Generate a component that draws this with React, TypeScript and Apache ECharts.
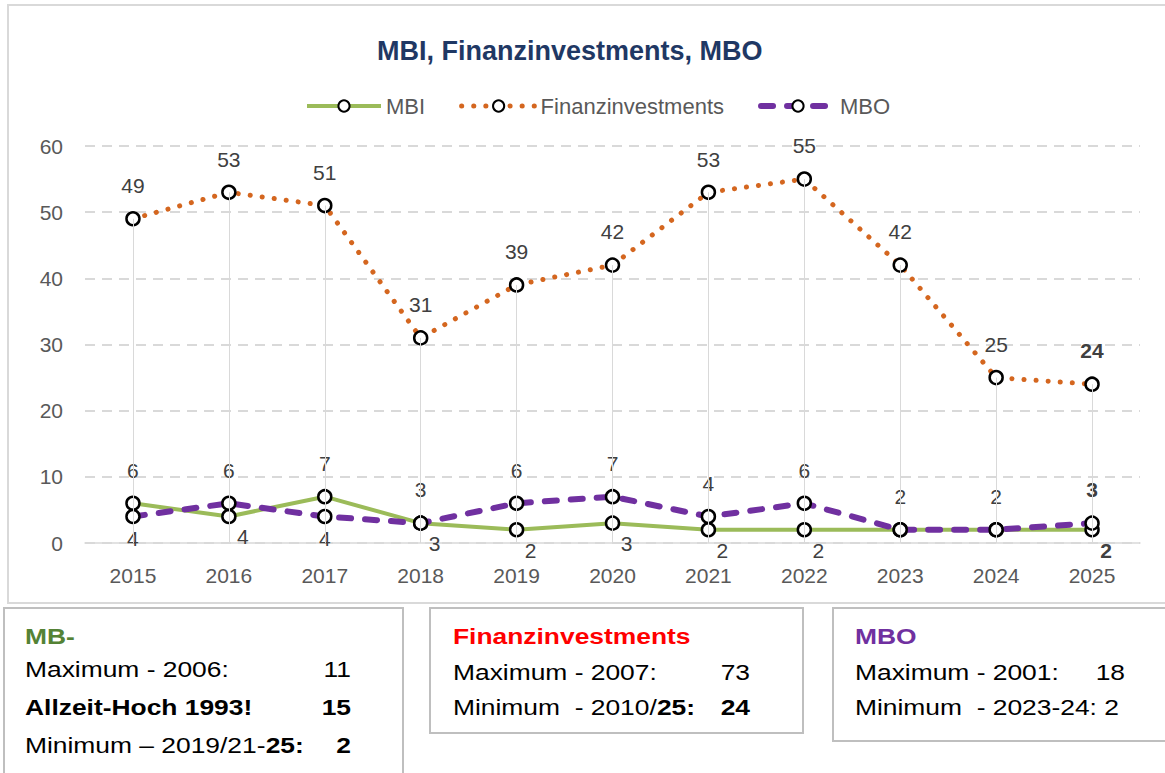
import React, { useEffect, useRef } from 'react';
import * as echarts from 'echarts';

const years = ['2015', '2016', '2017', '2018', '2019', '2020', '2021', '2022', '2023', '2024', '2025'];
const mbiValues = [6, 4, 7, 3, 2, 3, 2, 2, 2, 2, 2];
const finanzValues = [49, 53, 51, 31, 39, 42, 53, 55, 42, 25, 24];
const mboValues = [4, 6, 4, 3, 6, 7, 4, 6, 2, 2, 3];
const seriesNames = ['MBI', 'Finanzinvestments', 'MBO'];
const yMin = 0;
const yMax = 60;
const yStep = 10;

const FONT = '"Liberation Sans", Arial, sans-serif';
const LABEL_COLOR = '#404040';
const AXIS_COLOR = '#595959';
const MBI_COLOR = '#9BBB59';
const FIN_COLOR = '#D4661F';
const MBO_COLOR = '#7030A0';

export default function App() {
  const ref = useRef<HTMLDivElement>(null);

  useEffect(() => {
    if (!ref.current) return;
    const chart = echarts.init(ref.current, null, { renderer: 'svg' });
    const last = years.length - 1;
    const hiddenMbi = [8, 9];

    const marker = {
      symbol: 'circle',
      symbolSize: 13,
      itemStyle: { color: '#ffffff', borderColor: '#000000', borderWidth: 2.5 },
    };
    const baseLabel = {
      show: true,
      fontFamily: FONT,
      fontSize: 21,
      color: LABEL_COLOR,
    };

    const mbiLine = { color: MBI_COLOR, width: 4 };
    const finLine = { color: FIN_COLOR, width: 5, type: [0.1, 12], cap: 'round' };
    const mboLine = { color: MBO_COLOR, width: 6, type: [12, 14], cap: 'round' };

    const finData = finanzValues.map((v, i) => ({
      value: v,
      label: { fontWeight: i === last ? 'bold' : 'normal' },
    }));
    const mbiData = mbiValues.map((v, i) => {
      const above = v > mboValues[i];
      return {
        value: v,
        label: {
          show: !hiddenMbi.includes(i),
          fontWeight: i === last ? 'bold' : 'normal',
          position: above ? 'top' : 'bottom',
          distance: above ? 15 : 4,
          offset: above ? [0, 0] : [14, -2],
        },
      };
    });
    const mboData = mboValues.map((v, i) => {
      const above = v >= mbiValues[i];
      return {
        value: v,
        label: {
          fontWeight: i === last ? 'bold' : 'normal',
          position: above ? 'top' : 'bottom',
          distance: above ? 15 : 4,
        },
      };
    });

    const boxText = (x: number, y: number, text: string, opts: any = {}) => ({
      type: 'text',
      x,
      y,
      scaleX: 1.2,
      z: 10,
      style: {
        text,
        fontFamily: FONT,
        fontSize: 22,
        fontWeight: opts.bold ? 'bold' : 'normal',
        fill: opts.color || '#000000',
        textAlign: opts.align || 'left',
        textVerticalAlign: 'middle',
        rich: opts.rich,
      },
    });
    const rich = {
      n: { fontFamily: FONT, fontSize: 22, fontWeight: 'normal', fill: '#000' },
      b: { fontFamily: FONT, fontSize: 22, fontWeight: 'bold', fill: '#000' },
    };

    const option: any = {
      animation: false,
      backgroundColor: '#ffffff',
      title: {
        text: 'MBI, Finanzinvestments, MBO',
        left: 377,
        top: 37,
        padding: 0,
        textStyle: { fontFamily: FONT, fontSize: 27, fontWeight: 'bold', color: '#1F3864' },
      },
      legend: {
        data: [
          { name: seriesNames[0], lineStyle: mbiLine },
          { name: seriesNames[1], lineStyle: finLine },
          { name: seriesNames[2], lineStyle: mboLine },
        ],
        left: 300,
        top: 90,
        itemWidth: 74,
        itemHeight: 14,
        itemGap: 34,
        textStyle: { fontFamily: FONT, fontSize: 22, color: AXIS_COLOR },
      },
      grid: { left: 85, right: 25, top: 146, bottom: 230, containLabel: false },
      xAxis: {
        type: 'category',
        data: years,
        boundaryGap: true,
        axisLine: { show: true, lineStyle: { color: '#D9D9D9', width: 1.5 } },
        axisTick: { show: false },
        axisLabel: { margin: 22, fontFamily: FONT, fontSize: 21, color: AXIS_COLOR },
        splitLine: { show: false },
      },
      yAxis: {
        type: 'value',
        min: yMin,
        max: yMax,
        interval: yStep,
        axisLine: { show: false },
        axisTick: { show: false },
        axisLabel: { margin: 22, fontFamily: FONT, fontSize: 21, color: AXIS_COLOR },
        splitLine: { show: true, lineStyle: { color: '#D9D9D9', width: 2, type: [10, 7] } },
      },
      series: [
        {
          name: seriesNames[0],
          type: 'line',
          data: mbiData,
          z: 3,
          ...marker,
          lineStyle: mbiLine,
          label: { ...baseLabel },
          emphasis: { disabled: true },
        },
        {
          name: seriesNames[1],
          type: 'line',
          data: finData,
          z: 2,
          ...marker,
          lineStyle: finLine,
          label: { ...baseLabel, position: 'top', distance: 15 },
          emphasis: { disabled: true },
          markLine: {
            silent: true,
            symbol: ['none', 'none'],
            label: { show: false },
            lineStyle: { color: '#D9D9D9', width: 1, type: 'solid' },
            emphasis: { disabled: true },
            data: finanzValues.map((v, i) => [
              { coord: [years[i], 0] },
              { coord: [years[i], v] },
            ]),
          },
        },
        {
          name: seriesNames[2],
          type: 'line',
          data: mboData,
          z: 4,
          ...marker,
          lineStyle: mboLine,
          label: { ...baseLabel },
          emphasis: { disabled: true },
        },
      ],
      graphic: [
        {
          type: 'rect',
          z: 0,
          shape: { x: 8, y: 5, width: 1170, height: 598 },
          style: { fill: 'none', stroke: '#D9D9D9', lineWidth: 2 },
        },
        {
          type: 'rect',
          z: 0,
          shape: { x: 4, y: 608, width: 399, height: 200 },
          style: { fill: 'none', stroke: '#BFBFBF', lineWidth: 2 },
        },
        {
          type: 'rect',
          z: 0,
          shape: { x: 430, y: 608, width: 373, height: 125 },
          style: { fill: 'none', stroke: '#BFBFBF', lineWidth: 2 },
        },
        {
          type: 'rect',
          z: 0,
          shape: { x: 833, y: 608, width: 340, height: 133 },
          style: { fill: 'none', stroke: '#BFBFBF', lineWidth: 2 },
        },
        boxText(25, 636, 'MB-', { bold: true, color: '#548235' }),
        boxText(25, 669, 'Maximum - 2006:'),
        boxText(351, 669, '11', { align: 'right' }),
        boxText(25, 707, 'Allzeit-Hoch 1993!', { bold: true }),
        boxText(351, 707, '15', { align: 'right', bold: true }),
        boxText(25, 745, '{n|Minimum – 2019/21-}{b|25:}', { rich }),
        boxText(351, 745, '2', { align: 'right', bold: true }),

        boxText(453, 636, 'Finanzinvestments', { bold: true, color: '#FF0000' }),
        boxText(453, 672, 'Maximum - 2007:'),
        boxText(750, 672, '73', { align: 'right' }),
        boxText(453, 707, '{n|Minimum  - 2010/}{b|25:}', { rich }),
        boxText(750, 707, '24', { align: 'right', bold: true }),

        boxText(855, 636, 'MBO', { bold: true, color: '#7030A0' }),
        boxText(855, 672, 'Maximum - 2001:'),
        boxText(1125, 672, '18', { align: 'right' }),
        boxText(855, 707, 'Minimum  - 2023-24: 2'),
      ],
    };

    chart.setOption(option);
    return () => chart.dispose();
  }, []);

  return (
    <div
      ref={ref}
      style={{ position: 'fixed', left: 0, top: 0, width: 1165, height: 773, background: '#ffffff' }}
    />
  );
}
